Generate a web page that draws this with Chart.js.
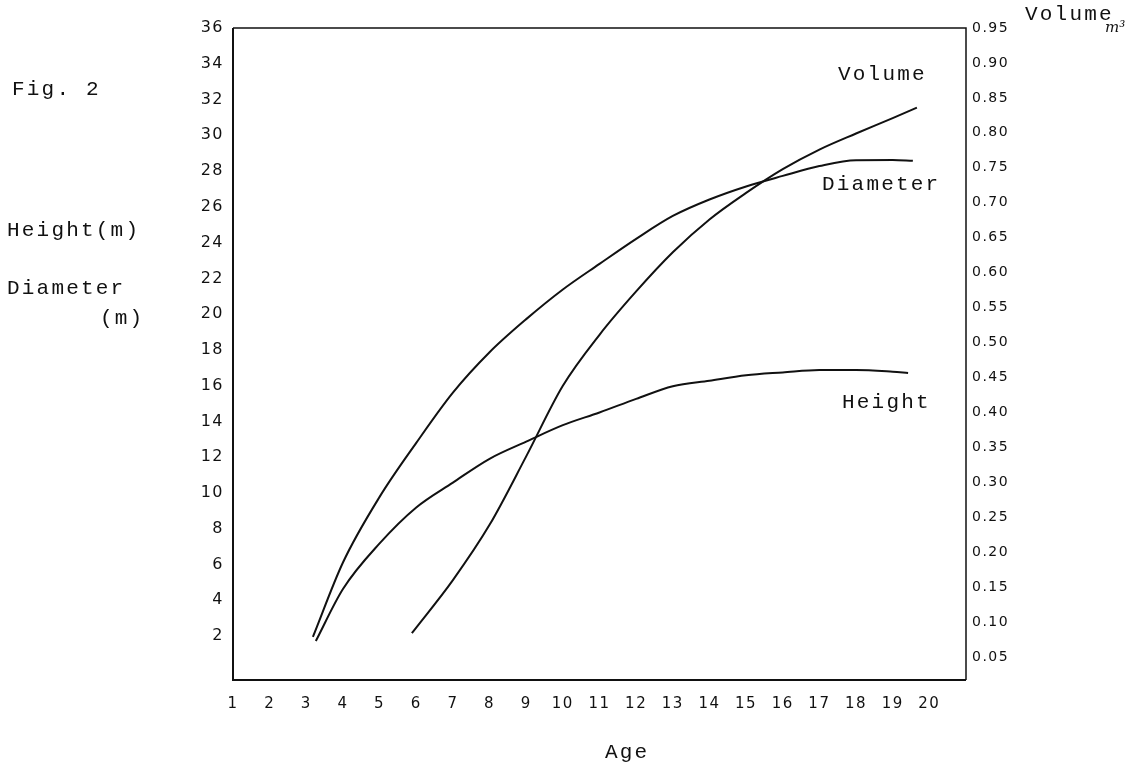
<!DOCTYPE html>
<html>
<head>
<meta charset="utf-8">
<title>Fig. 2</title>
<script src="https://cdn.jsdelivr.net/npm/chart.js@4.4.0/dist/chart.umd.min.js"></script>
<style>
  html, body { margin: 0; padding: 0; background: #fff; }
  #wrap { width: 1134px; height: 772px; }
</style>
</head>
<body>
<div id="wrap"><canvas id="chart" width="1134" height="772"></canvas></div>
<script>
// values (age in years)
const ageTicks = [1, 2, 3, 4, 5, 6, 7, 8, 9, 10, 11, 12, 13, 14, 15, 16, 17, 18, 19, 20];
const heightTicks = [2, 4, 6, 8, 10, 12, 14, 16, 18, 20, 22, 24, 26, 28, 30, 32, 34, 36];
const volumeTicks = [0.05, 0.10, 0.15, 0.20, 0.25, 0.30, 0.35, 0.40, 0.45, 0.50,
                     0.55, 0.60, 0.65, 0.70, 0.75, 0.80, 0.85, 0.90, 0.95];

const diameterAges = [3.18, 4, 5, 6, 7, 8, 9, 10, 11, 12, 13, 14, 15, 16, 17, 18, 19, 19.55];
const diameterValues = [1.95, 6.11, 9.78, 12.8, 15.61, 17.87, 19.72, 21.38, 22.81, 24.21,
                        25.49, 26.41, 27.14, 27.73, 28.28, 28.61, 28.62, 28.57];

const heightAges = [3.26, 4, 5, 6, 7, 8, 9, 10, 11, 12, 13, 14, 15, 16, 17, 18, 19, 19.42];
const heightValues = [1.72, 4.63, 7.18, 9.19, 10.58, 11.91, 12.87, 13.79, 14.5, 15.26,
                      15.97, 16.28, 16.58, 16.74, 16.88, 16.88, 16.78, 16.71];

const volumeAges = [5.88, 7, 8, 9, 10, 11, 12, 13, 14, 15, 16, 17, 18, 19, 19.66];
const volumeValues = [0.084, 0.160, 0.239, 0.337, 0.438, 0.511, 0.573, 0.629, 0.676,
                      0.714, 0.748, 0.776, 0.799, 0.821, 0.836];

const ink = '#111';
const typeFont = '21px "Liberation Mono", "DejaVu Sans Mono", monospace';
const tickFamily = '"DejaVu Sans", sans-serif';

const toPoints = (xs, ys) => xs.map((x, i) => ({ x: x, y: ys[i] }));

const lineStyle = {
    borderColor: ink,
    borderWidth: 2,
    pointRadius: 0,
    fill: false,
    cubicInterpolationMode: 'monotone'
};

// frame + typed labels of the scanned figure
const figurePlugin = {
    id: 'figure',
    beforeDraw(chart) {
        chart.ctx.letterSpacing = '1.5px';
    },
    afterDraw(chart) {
        const ctx = chart.ctx;
        const a = chart.chartArea;
        ctx.save();
        ctx.strokeStyle = ink;
        ctx.lineWidth = 2;
        ctx.beginPath();
        ctx.moveTo(a.left, a.top);
        ctx.lineTo(a.left, a.bottom);
        ctx.lineTo(a.right, a.bottom);
        ctx.stroke();
        ctx.lineWidth = 1.5;
        ctx.beginPath();
        ctx.moveTo(a.left, a.top);
        ctx.lineTo(a.right, a.top);
        ctx.lineTo(a.right, a.bottom);
        ctx.stroke();

        ctx.fillStyle = ink;
        ctx.font = typeFont;
        ctx.letterSpacing = '2.2px';
        ctx.textBaseline = 'middle';
        ctx.textAlign = 'left';
        const labels = [
            ['Fig. 2', 12, 89],
            ['Height(m)', 7, 230],
            ['Diameter', 7, 288],
            ['(m)', 100, 318],
            ['Volume', 1025, 14],
            ['Volume', 838, 74],
            ['Diameter', 822, 184],
            ['Height', 842, 402],
            ['Age', 605, 752]
        ];
        labels.forEach(([t, x, y]) => ctx.fillText(t, x, y));
        ctx.letterSpacing = '0px';
        ctx.font = 'italic 15px "DejaVu Serif", serif';
        ctx.fillText('m³', 1105, 28);
        ctx.restore();
    }
};

const ctx = document.getElementById('chart').getContext('2d');
new Chart(ctx, {
    type: 'line',
    data: {
        datasets: [
            { label: 'Volume', data: toPoints(volumeAges, volumeValues), yAxisID: 'y1', ...lineStyle },
            { label: 'Diameter', data: toPoints(diameterAges, diameterValues), yAxisID: 'y', ...lineStyle },
            { label: 'Height', data: toPoints(heightAges, heightValues), yAxisID: 'y', ...lineStyle }
        ]
    },
    options: {
        responsive: false,
        animation: false,
        devicePixelRatio: 1,
        layout: { padding: { top: 28, left: 0, right: 0, bottom: 0 } },
        plugins: {
            legend: { display: false },
            tooltip: { enabled: false }
        },
        scales: {
            x: {
                type: 'linear',
                min: 1,
                max: 21,
                grid: { display: false, drawTicks: false },
                border: { display: false },
                afterBuildTicks: (scale) => { scale.ticks = ageTicks.map(v => ({ value: v })); },
                afterFit: (scale) => { scale.height = 92; },
                ticks: {
                    color: ink,
                    padding: 15,
                    maxRotation: 0,
                    autoSkip: false,
                    font: { family: tickFamily, size: 15 },
                    callback: (v) => String(v)
                }
            },
            y: {
                position: 'left',
                min: -0.46,
                max: 36,
                grid: { display: false, drawTicks: false },
                border: { display: false },
                afterBuildTicks: (scale) => { scale.ticks = heightTicks.map(v => ({ value: v })); },
                afterFit: (scale) => { scale.width = 233; },
                ticks: {
                    color: ink,
                    padding: 9,
                    autoSkip: false,
                    font: { family: tickFamily, size: 16 },
                    callback: (v) => String(v)
                }
            },
            y1: {
                position: 'right',
                min: 0.017,
                max: 0.95,
                grid: { display: false, drawTicks: false },
                border: { display: false },
                afterBuildTicks: (scale) => { scale.ticks = volumeTicks.map(v => ({ value: v })); },
                afterFit: (scale) => { scale.width = 168; },
                ticks: {
                    color: ink,
                    padding: 6,
                    autoSkip: false,
                    font: { family: tickFamily, size: 14 },
                    callback: (v) => Number(v).toFixed(2)
                }
            }
        }
    },
    plugins: [figurePlugin]
});
</script>
</body>
</html>
